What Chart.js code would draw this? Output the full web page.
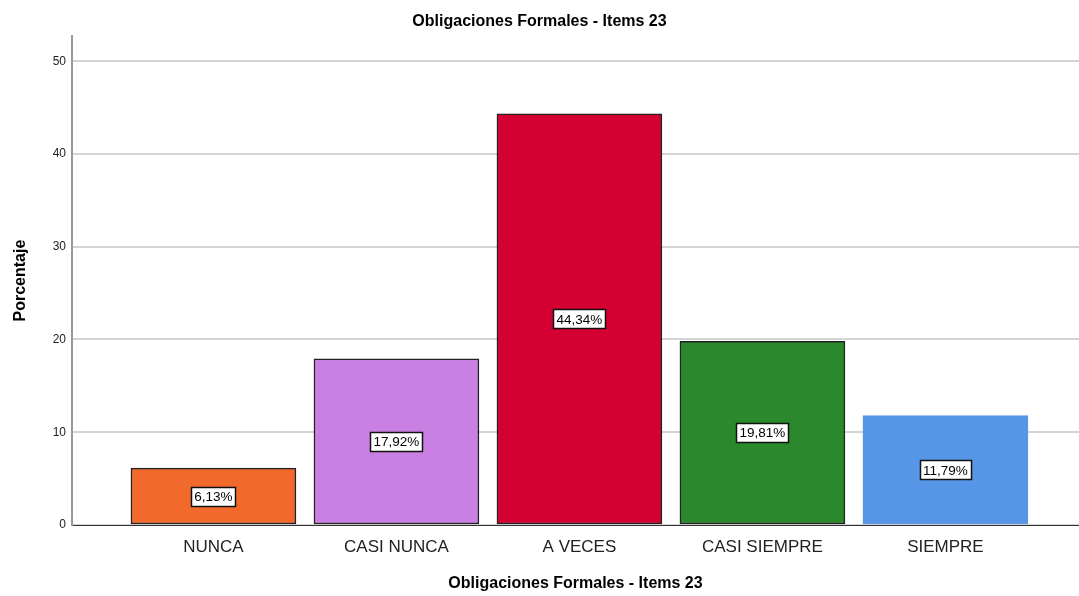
<!DOCTYPE html>
<html>
<head>
<meta charset="utf-8">
<script src="https://cdn.jsdelivr.net/npm/chart.js@4"></script>
<style>
  body { margin: 0; background: #fff; }
</style>
</head>
<body>
<canvas id="myChart" width="1079" height="596"></canvas>
<script>
const categories = ['NUNCA', 'CASI NUNCA', 'A VECES', 'CASI SIEMPRE', 'SIEMPRE'];
const values = [6.13, 17.92, 44.34, 19.81, 11.79];
const barColors = ['#F26A2B', '#CA7FE3', '#D50032', '#2A892C', '#5596E6'];
const edgeColors = ['#222222', '#222222', '#222222', '#222222', '#5596E6'];
const yTicks = [0, 10, 20, 30, 40, 50];

const FONT = "Arial, 'Liberation Sans', sans-serif";

// white boxes with the percentage in the middle of each bar
const barLabels = {
  id: 'barLabels',
  afterDatasetsDraw(chart) {
    const c = chart.ctx;
    const meta = chart.getDatasetMeta(0);
    c.save();
    c.font = '13.5px ' + FONT;
    c.textAlign = 'center';
    c.textBaseline = 'middle';
    meta.data.forEach(function(bar, i) {
      const txt = values[i].toFixed(2).replace('.', ',') + '%';
      const w = Math.round(c.measureText(txt).width + 6);
      const h = 19;
      const cy = (bar.y + bar.base) / 2;
      const x0 = Math.round(bar.x - w / 2);
      const y0 = Math.round(cy - h / 2);
      c.fillStyle = '#fff';
      c.fillRect(x0, y0, w, h);
      c.strokeStyle = '#111';
      c.lineWidth = 1.5;
      c.strokeRect(x0 + 0.5, y0 + 0.5, w, h);
      c.fillStyle = '#000';
      c.fillText(txt, bar.x, cy + 1);
    });
    c.restore();
  }
};

const ctx = document.getElementById('myChart').getContext('2d');
const chart = new Chart(ctx, {
  type: 'bar',
  data: {
    datasets: [{
      data: categories.map(function(c, i) { return { x: i, y: values[i] }; }),
      backgroundColor: barColors,
      borderColor: edgeColors,
      borderWidth: 1.5,
      borderSkipped: false,
      barThickness: 165
    }]
  },
  options: {
    responsive: false,
    devicePixelRatio: 1,
    animation: false,
    layout: { padding: { left: 0, right: 0, top: 0, bottom: 0 } },
    plugins: {
      legend: { display: false },
      tooltip: { enabled: false },
      title: {
        display: true,
        text: 'Obligaciones Formales - Items 23',
        color: '#000',
        font: { family: FONT, size: 16, weight: 'bold' },
        padding: { top: 12, bottom: 5 }
      }
    },
    scales: {
      x: {
        type: 'linear',
        offset: false,
        min: -0.773,
        max: 4.73,
        afterBuildTicks: function(scale) {
          scale.ticks = categories.map(function(c, i) { return { value: i }; });
        },
        afterFit: function(scale) { scale.height = 71; },
        ticks: {
          color: '#222',
          font: { family: FONT, size: 17 },
          padding: 12,
          callback: function(v) { return categories[v]; }
        },
        grid: { display: false, drawTicks: false },
        border: { color: '#333', width: 1 },
        title: {
          display: true,
          text: 'Obligaciones Formales - Items 23',
          color: '#000',
          font: { family: FONT, size: 16, weight: 'bold' },
          padding: { top: 6, bottom: 3 }
        }
      },
      y: {
        min: 0,
        max: 52.7,
        afterBuildTicks: function(scale) {
          scale.ticks = yTicks.map(function(v) { return { value: v }; });
        },
        afterFit: function(scale) { scale.width = 72; },
        ticks: {
          color: '#222',
          font: { family: FONT, size: 12 },
          padding: 6
        },
        grid: { color: '#d4d4d4', lineWidth: 2, drawTicks: false },
        border: { color: '#999', width: 2 },
        title: {
          display: true,
          text: 'Porcentaje',
          color: '#000',
          font: { family: FONT, size: 16, weight: 'bold' },
          padding: { top: 11, bottom: 6 }
        }
      }
    }
  },
  plugins: [barLabels]
});
</script>
</body>
</html>
